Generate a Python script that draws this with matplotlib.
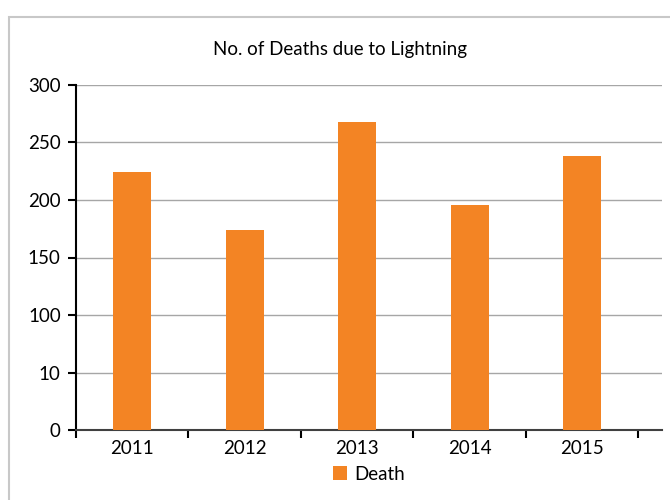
import matplotlib
matplotlib.use('Agg')
import matplotlib.pyplot as plt
import matplotlib.patches as patches
import numpy as np

years = ['2011', '2012', '2013', '2014', '2015']
deaths = [224, 174, 268, 196, 238]
ytick_vals = [0, 50, 100, 150, 200, 250, 300]
ytick_labels = ['0', '10', '100', '150', '200', '250', '300']

ORANGE = '#f38424'
plt.rcParams['font.family'] = ['Lato', 'DejaVu Sans']

fig = plt.figure(figsize=(6.7, 5), dpi=100)
ax = fig.add_axes([76/670, 70/500, 586/670, 345/500])

x = np.arange(len(years))
ax.bar(x, deaths, width=0.34, color=ORANGE, label='Death', zorder=3)

ax.set_xlim(-0.5, 4.71)
ax.set_ylim(0, 300)
ax.set_yticks(ytick_vals)
ax.set_yticklabels(ytick_labels)
ax.yaxis.grid(True, color='#a6a6a6', linewidth=1, zorder=0)

# category labels centred, tick marks on the boundaries
ax.set_xticks(x)
ax.set_xticklabels(years)
ax.set_xticks(np.arange(len(years) + 1) - 0.5, minor=True)
ax.tick_params(axis='x', which='major', length=0, pad=7, labelsize=13.5)
ax.tick_params(axis='x', which='minor', length=6, width=1.5, color='black', direction='out')
ax.tick_params(axis='y', length=6, width=1.5, color='black', pad=5, labelsize=13.5)

for s in ['top', 'right']:
    ax.spines[s].set_visible(False)
ax.spines['left'].set_color('black')
ax.spines['left'].set_linewidth(1.5)
ax.spines['bottom'].set_color('#404040')
ax.spines['bottom'].set_linewidth(1.5)

fig.text(340/670, 1 - 50/500, 'No. of Deaths due to Lightning', ha='center', va='center', fontsize=13.5)

fig.legend(loc='center', bbox_to_anchor=(369/670, 1 - 474/500), frameon=False, fontsize=13.5,
           handlelength=0.75, handleheight=0.75, handletextpad=0.4)

# light grey outer frame
fig.patches.append(patches.Rectangle((9/670, -0.1), 1.2, 1 - 17/500 + 0.1, transform=fig.transFigure,
                                     fill=False, edgecolor='#c8c8c8', linewidth=1.5))

fig.savefig('out.png', dpi=100)
